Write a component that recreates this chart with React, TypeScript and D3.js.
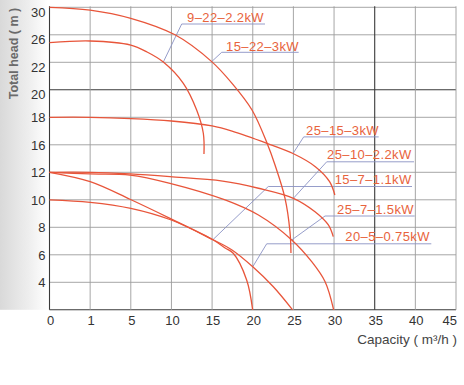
import React from "react";
import * as d3 from "d3";

// Axis ticks (the original chart uses unevenly spaced tick values on equal spacing)
const xTicks = [0, 1, 5, 10, 15, 20, 25, 30, 35, 40, 45];
const yTicks = [30, 26, 22, 20, 18, 16, 12, 10, 8, 6, 4];
const yFloor = 2; // unlabeled bottom line

// Pump curves: [capacity m3/h, head m]
const curve15_22_3 = [[0, 30], [1, 29.6], [5, 28.4], [10.44, 26], [14.95, 22.1], [17.45, 20.47], [19.91, 18.53], [21.75, 16.13], [22.74, 13.06], [23.97, 10.11], [24.58, 7.68], [24.7, 6.13]];
const curve9_22_22 = [[0, 24.85], [1, 25.1], [5, 24.5], [7, 23.5], [9, 22.04], [11.46, 20.47], [13.1, 18.53], [13.92, 16.84], [14.0, 14.66]];
const curve25_15_3 = [[0, 18], [1, 18], [5, 17.91], [10, 17.73], [15, 17.37], [17.45, 17], [21.75, 16.11], [24.95, 14.73], [27.7, 12.82], [29.45, 11.32], [30.1, 10.35]];
const curve25_10_22 = [[0, 12], [1, 12], [4.92, 11.88], [9.82, 11.68], [16.3, 11.36], [20.7, 10.84], [25, 10.11], [27.66, 9.13], [29.3, 8.17], [29.9, 7.32]];
const curve25_7_15 = [[0, 12], [1, 11.88], [4.92, 11.8], [9.82, 11.2], [16.6, 9.99], [20.7, 8.89], [24.8, 7.08], [27.25, 5.5], [28.9, 4.04], [29.95, 2]];
const curve15_7_11 = [[0, 12], [1, 11.32], [4.92, 10.04], [9.82, 8.65], [15.15, 7.08], [16.6, 6.5], [17.6, 6.11], [19.25, 4.17], [19.99, 2]];
const curve20_5_075 = [[0, 10], [1, 9.82], [5, 9.38], [9.98, 8.53], [14.99, 7.13], [17.45, 6.35], [20, 5.13], [22.53, 3.68], [24.9, 2]];

const curves = [curve15_22_3, curve9_22_22, curve25_15_3, curve25_10_22, curve25_7_15, curve15_7_11, curve20_5_075];

// Callout labels and the curve point each one points at
const labelNames = ["9–22–2.2kW", "15–22–3kW", "25–15–3kW", "25–10–2.2kW", "15–7–1.1kW", "25–7–1.5kW", "20–5–0.75kW"];
const labelAnchorQ = [9, 14.95, 24.95, 25, 15.1, 24.8, 20];
const labelAnchorH = [22.04, 22.1, 14.73, 10.11, 7.1, 7.08, 5.13];

const xTitle = "Capacity ( m³/h )";
const yTitle = "Total head ( m )";

export default function App() {
  const W = 464, H = 385;
  const left = 49.5, right = 456, top = 7.3, bottom = 309.8;
  const font = "'Liberation Sans', Arial, Helvetica, sans-serif";

  const xStep = (right - left) / (xTicks.length - 1);
  const x = d3.scaleLinear().domain(xTicks).range(xTicks.map((_, i) => left + i * xStep));
  const yDomain = [yFloor, ...yTicks.slice().reverse()];
  const yStep = (bottom - top) / (yDomain.length - 1);
  const y = d3.scaleLinear().domain(yDomain).range(yDomain.map((_, i) => bottom - i * yStep));

  const line = d3
    .line<number[]>()
    .x((d) => x(d[0]))
    .y((d) => y(d[1]))
    .curve(d3.curveCatmullRom.alpha(0.5));

  // label layout: underline start/end, underline y, text x, text baseline
  const layout = [
    [181.7, 265, 24, 187, 21.7],
    [221.7, 298.7, 52.3, 226, 50.7],
    [303.7, 378.7, 136.9, 306, 135],
    [326.7, 414, 161.8, 327, 159.3],
    [268.3, 412, 186.5, 334.7, 184],
    [325, 414.7, 216, 337, 214],
    [266.7, 431.3, 243.8, 345.3, 240.7],
  ];

  const gridColor = "#9c9c9c";
  const darkColor = "#3a3a3a";

  return (
    <svg width={W} height={H} style={{ position: "absolute", left: 0, top: 0, background: "#fff" }} fontFamily={font}>
      <defs>
        <linearGradient id="leftShade" x1="0" x2="1" y1="0" y2="0">
          <stop offset="0%" stopColor="#d9d9d9" />
          <stop offset="60%" stopColor="#eeeeee" />
          <stop offset="100%" stopColor="#ffffff" />
        </linearGradient>
      </defs>
      <rect x={0} y={0} width={W} height={H} fill="#fff" />
      <rect x={0} y={0} width={48} height={bottom} fill="url(#leftShade)" />

      {/* horizontal grid */}
      {yDomain.map((v) => (
        <line
          key={"h" + v}
          x1={left}
          x2={right}
          y1={y(v)}
          y2={y(v)}
          stroke={v === 20 || v === yFloor ? darkColor : gridColor}
          strokeWidth={v === 20 || v === yFloor ? 1.1 : 0.9}
        />
      ))}
      {/* vertical grid */}
      {xTicks.map((v) => (
        <line
          key={"v" + v}
          x1={x(v)}
          x2={x(v)}
          y1={top - 1}
          y2={bottom}
          stroke={v === 35 || v === 0 ? darkColor : gridColor}
          strokeWidth={v === 35 || v === 0 ? 1.1 : 0.9}
        />
      ))}

      {/* y tick labels */}
      {yTicks.map((v) => (
        <text
          key={"yt" + v}
          x={45.5}
          y={y(v) + (v >= 20 ? 9.6 : 4.7)}
          textAnchor="end"
          fontSize={13}
          fill="#333"
        >
          {v}
        </text>
      ))}
      {/* x tick labels */}
      {xTicks.map((v, i) => (
        <text
          key={"xt" + v}
          x={i === xTicks.length - 1 ? right + 1 : x(v) + 1}
          y={324.5}
          textAnchor={i === xTicks.length - 1 ? "end" : "middle"}
          fontSize={13}
          fill="#333"
        >
          {v}
        </text>
      ))}

      {/* axis titles */}
      <text x={457} y={343.5} textAnchor="end" fontSize={13.5} fill="#444">
        {xTitle}
      </text>
      <text
        transform={`translate(17.5,53.5) rotate(-90)`}
        textAnchor="middle"
        fontSize={12.5}
        fill="#6a6a6a"
        fontWeight="bold"
      >
        {yTitle}
      </text>

      {/* leader lines */}
      {labelNames.map((n, i) => {
        const [ux1, ux2, uy] = layout[i];
        const ax = x(labelAnchorQ[i]);
        const ay = y(labelAnchorH[i]);
        return (
          <polyline
            key={"ld" + i}
            points={`${ax},${ay} ${ux1},${uy} ${ux2},${uy}`}
            fill="none"
            stroke="#8a92c4"
            strokeWidth={0.9}
          />
        );
      })}

      {/* curves */}
      {curves.map((c, i) => (
        <path key={"c" + i} d={line(c) || ""} fill="none" stroke="#e8553a" strokeWidth={1.3} />
      ))}

      {/* label texts */}
      {labelNames.map((n, i) => (
        <text
          key={"lt" + i}
          x={layout[i][3]}
          y={layout[i][4]}
          fontSize={13}
          letterSpacing={0.4}
          fill="#e8633c"
        >
          {n}
        </text>
      ))}
    </svg>
  );
}
